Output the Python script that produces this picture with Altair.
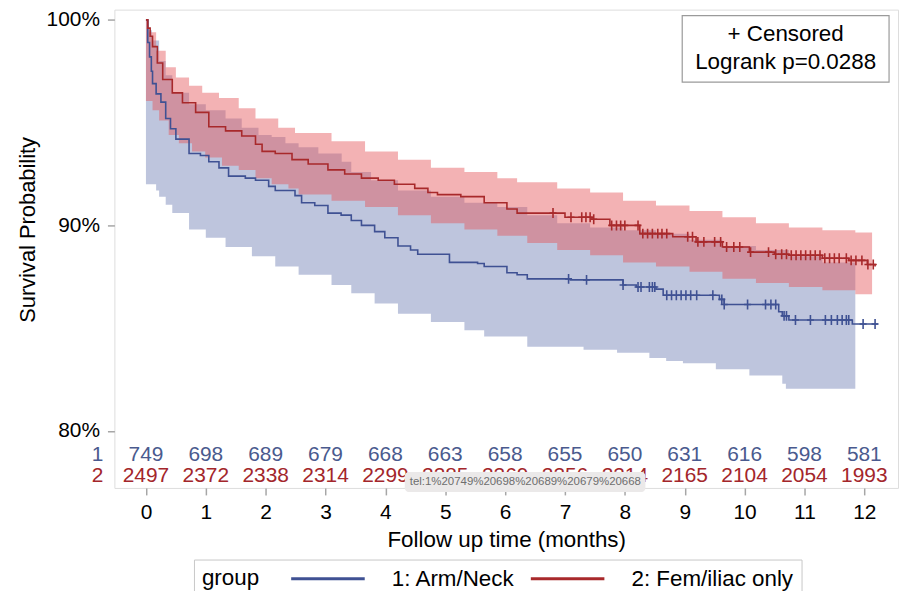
import altair as alt
import pandas as pd
import numpy as np

FONT = "Liberation Sans"
G1 = "1: Arm/Neck"
G2 = "2: Fem/iliac only"
BLUE = "#3f5193"
RED = "#a8292b"
BLUE_TXT = "#4a5a8e"
RED_TXT = "#a3262b"

# ---- Kaplan-Meier estimate, group 1 (Arm/Neck) ----
t1 = [0, 0.03, 0.06, 0.09, 0.11, 0.17, 0.25, 0.33, 0.41, 0.50, 0.72, 0.91, 1.05, 1.22,
      1.38, 1.66, 1.83, 2.05, 2.16, 2.49, 2.60, 2.82, 3.04, 3.26, 3.43, 3.60, 3.82, 3.99,
      4.21, 4.42, 4.54, 5.07, 5.54, 5.65, 6.03, 6.20, 6.37, 7.09, 7.97, 8.19, 8.52, 8.64,
      9.58, 9.66, 10.57, 10.63, 10.74, 11.80, 12.23]
s1 = [100, 98.9, 98.2, 97.5, 96.9, 96.4, 96.0, 95.2, 94.7, 94.2, 93.5, 93.4, 93.1, 92.8,
      92.4, 92.3, 92.2, 91.9, 91.7, 91.45, 91.1, 90.97, 90.6, 90.5, 90.24, 90.0, 89.7, 89.4,
      89.0, 88.8, 88.6, 88.2, 88.15, 88.0, 87.7, 87.6, 87.4, 87.35, 87.1, 87.0, 86.9, 86.6,
      86.4, 86.15, 85.8, 85.6, 85.4, 85.2, 85.2]

# ---- Kaplan-Meier estimate, group 2 (Fem/iliac only) ----
t2 = [0, 0.03, 0.07, 0.11, 0.19, 0.28, 0.44, 0.61, 0.83, 1.05, 1.33, 1.60, 1.83, 1.94,
      2.16, 2.44, 2.71, 3.04, 3.32, 3.60, 3.88, 4.15, 4.49, 4.71, 4.87, 5.26, 5.65, 6.03,
      6.20, 7.00, 7.45, 7.75, 8.25, 8.80, 9.19, 9.63, 10.08, 10.50, 10.74, 11.30, 11.74,
      12.05, 12.18]
s2 = [100, 99.6, 99.2, 98.7, 97.9, 97.1, 96.45, 95.97, 95.5, 94.8, 94.6, 94.35, 93.95, 93.6,
      93.5, 93.2, 92.99, 92.7, 92.5, 92.3, 92.2, 92.0, 91.8, 91.6, 91.5, 91.4, 91.1, 90.8,
      90.6, 90.4, 90.3, 90.0, 89.6, 89.45, 89.2, 88.95, 88.7, 88.6, 88.55, 88.4, 88.3,
      88.1, 88.0]

# ---- confidence band, group 1 ----
tu1 = [0, 0.05, 0.10, 0.22, 0.33, 0.44, 0.72, 1.00, 1.33, 1.60, 1.88, 2.10, 2.33, 2.55,
       2.88, 3.27, 3.43, 3.76, 4.21, 4.76, 5.32, 5.87, 6.37, 6.87, 7.42, 7.97, 8.52, 9.08,
       9.63, 10.19, 10.74, 11.30, 11.85]
su1 = [100, 99.5, 99.0, 98.0, 97.3, 96.45, 95.9, 95.6, 95.2, 94.75, 94.4, 94.3, 94.0, 93.8,
       93.5, 93.1, 92.6, 92.2, 91.7, 91.4, 91.1, 90.9, 90.5, 90.1, 89.9, 89.76, 89.6, 89.3,
       89.0, 88.8, 88.5, 88.2, 88.0]
tl1 = [0, 0.17, 0.22, 0.33, 0.44, 0.72, 1.00, 1.33, 1.77, 2.16, 2.55, 3.10, 3.43, 3.82,
       4.21, 4.76, 5.32, 5.65, 6.37, 7.31, 7.87, 8.41, 8.69, 8.97, 9.52, 10.08, 10.63,
       10.69, 11.85]
sl1 = [92.0, 91.7, 91.4, 91.0, 90.6, 89.8, 89.4, 88.95, 88.5, 88.0, 87.6, 87.1, 86.7, 86.2,
       85.7, 85.3, 84.9, 84.6, 84.1, 83.95, 83.8, 83.55, 83.4, 83.3, 83.0, 82.7, 82.3,
       82.05, 82.05]

# ---- confidence band, group 2 ----
tu2 = [0, 0.05, 0.17, 0.33, 0.50, 0.72, 0.94, 1.22, 1.55, 1.83, 2.21, 2.49, 3.10, 3.66,
       4.21, 4.76, 5.32, 5.87, 6.20, 6.87, 7.42, 7.97, 8.52, 9.08, 9.63, 10.19, 10.74,
       11.30, 11.85, 12.13]
su2 = [100, 99.4, 98.5, 97.7, 97.2, 96.8, 96.45, 96.2, 95.7, 95.2, 94.75, 94.5, 94.1, 93.6,
       93.2, 92.8, 92.6, 92.3, 92.1, 91.8, 91.6, 91.2, 90.97, 90.7, 90.4, 90.1, 89.9,
       89.76, 89.65, 89.65]
tl2 = [0, 0.11, 0.22, 0.38, 0.55, 0.77, 0.99, 1.27, 1.55, 1.83, 2.10, 2.38, 2.55, 3.10,
       3.66, 4.21, 4.76, 5.32, 5.87, 6.37, 6.87, 7.42, 7.97, 8.52, 9.08, 9.63, 10.19,
       10.74, 11.30, 11.85, 12.13]
sl2 = [96.05, 95.6, 95.1, 94.4, 94.0, 93.6, 93.3, 92.9, 92.7, 92.3, 92.0, 91.8, 91.5, 91.2,
       90.9, 90.5, 90.1, 89.8, 89.5, 89.15, 88.8, 88.55, 88.2, 88.0, 87.75, 87.4, 87.2,
       87.0, 86.85, 86.65, 86.6]

# ---- censoring times ----
cens1 = [7.06, 7.36, 7.97, 8.22, 8.27, 8.41, 8.46, 8.50, 8.70, 8.78, 8.86, 8.94, 9.02,
         9.10, 9.20, 9.47, 9.62, 9.66, 10.05, 10.35, 10.44, 10.52, 10.66, 10.70, 10.85,
         11.10, 11.35, 11.45, 11.55, 11.63, 11.70, 11.74, 11.98, 12.18]
cens2 = [6.80, 7.10, 7.28, 7.35, 7.42, 7.48, 7.78, 7.86, 7.93, 8.00, 8.22, 8.30, 8.38,
         8.46, 8.55, 8.62, 8.70, 9.05, 9.13, 9.22, 9.32, 9.50, 9.60, 9.70, 9.82, 9.92,
         10.10, 10.40, 10.52, 10.62, 10.70, 10.78, 10.86, 10.94, 11.02, 11.10, 11.18,
         11.26, 11.34, 11.42, 11.50, 11.58, 11.70, 11.78, 11.86, 11.96, 12.06, 12.15]

# ---- numbers at risk ----
risk_t = list(range(13))
risk1 = [749, 698, 689, 679, 668, 663, 658, 655, 650, 631, 616, 598, 581]
risk2 = [2497, 2372, 2338, 2314, 2299, 2285, 2269, 2256, 2214, 2165, 2104, 2054, 1993]

x_ticks = list(range(13))
y_ticks = [80, 90, 100]


def step_eval(ts, ss, x):
    ts = np.asarray(ts, dtype=float)
    ss = np.asarray(ss, dtype=float)
    i = np.searchsorted(ts, np.asarray(x, dtype=float), side="right") - 1
    return ss[np.clip(i, 0, len(ss) - 1)]


def band(tu, su, tl, sl):
    grid = sorted(set(tu) | set(tl))
    return pd.DataFrame({"t": grid, "lo": step_eval(tl, sl, grid), "hi": step_eval(tu, su, grid)})


band1 = band(tu1, su1, tl1, sl1)
band2 = band(tu2, su2, tl2, sl2)
curves = pd.concat([
    pd.DataFrame({"t": t1, "s": s1, "group": G1}),
    pd.DataFrame({"t": t2, "s": s2, "group": G2}),
])
cens = pd.concat([
    pd.DataFrame({"t": cens1, "s": step_eval(t1, s1, cens1), "group": G1}),
    pd.DataFrame({"t": cens2, "s": step_eval(t2, s2, cens2), "group": G2}),
])
risk_df1 = pd.DataFrame({"t": risk_t, "n": [str(v) for v in risk1]})
risk_df2 = pd.DataFrame({"t": risk_t, "n": [str(v) for v in risk2]})
one = pd.DataFrame({"k": [0]})

XS = alt.Scale(domain=[-0.527, 12.563], nice=False, zero=False)
YS = alt.Scale(domain=[77.228, 100.498], nice=False, zero=False)
XA = alt.Axis(values=x_ticks, title="Follow up time (months)", grid=False, domain=False,
              tickSize=7, tickWidth=1.5, tickColor="#a6a6a6", labelFontSize=21,
              labelColor="black", labelPadding=7, labelFont=FONT, titleFont=FONT,
              titleFontSize=22.5, titleFontWeight="normal", titleColor="black",
              titleY=52, titleBaseline="middle")
YA = alt.Axis(values=y_ticks, labelExpr="datum.value + '%'", title="Survival Probability",
              grid=False, domain=False, tickSize=7, tickWidth=1.5, tickColor="#a6a6a6",
              labelFontSize=21, labelColor="black", labelPadding=8, labelFont=FONT,
              titleFont=FONT, titleFontSize=22, titleFontWeight="normal", titleColor="black",
              titleX=-87, titleY=221, titleAngle=270, titleBaseline="middle",
              titleAlign="center")


def X(f):
    return alt.X(f"{f}:Q", scale=XS, axis=XA)


def Y(f):
    return alt.Y(f"{f}:Q", scale=YS, axis=YA)


band_b = alt.Chart(band1).mark_area(interpolate="step-after", color="#6f7eb3",
                                    opacity=0.45).encode(x=X("t"), y=Y("lo"), y2="hi:Q")
band_r = alt.Chart(band2).mark_area(interpolate="step-after", color="#e45458",
                                    opacity=0.45).encode(x=X("t"), y=Y("lo"), y2="hi:Q")

legend = alt.Legend(orient="none", legendX=80, legendY=553, direction="horizontal",
                    title="group", titleOrient="left", titleFont=FONT, titleFontSize=22.5,
                    titleFontWeight="normal", titleColor="black", titlePadding=57.5,
                    labelFont=FONT, labelFontSize=22.5, labelColor="black", labelOffset=53,
                    labelLimit=400, symbolType="M-6,0H6", symbolSize=152,
                    symbolStrokeWidth=3, columnPadding=9, padding=8,
                    strokeColor="#c8c8c8", fillColor="white")

lines = alt.Chart(curves).mark_line(interpolate="step-after", strokeWidth=1.6).encode(
    x=X("t"), y=Y("s"),
    color=alt.Color("group:N", scale=alt.Scale(domain=[G1, G2], range=[BLUE, RED]),
                    legend=legend))

marks = alt.Chart(cens).mark_point(shape="M0,-1V1M-0.7,0H0.7", size=100, strokeWidth=1.6,
                                   filled=False, opacity=1).encode(
    x=X("t"), y=Y("s"),
    stroke=alt.Stroke("group:N", scale=alt.Scale(domain=[G1, G2], range=[BLUE, RED]),
                      legend=None))

txt1 = alt.Chart(risk_df1).mark_text(font=FONT, fontSize=21, color=BLUE_TXT,
                                     baseline="middle").encode(
    x=X("t"), y=alt.value(448), text="n:N")
txt2 = alt.Chart(risk_df2).mark_text(font=FONT, fontSize=21, color=RED_TXT,
                                     baseline="middle").encode(
    x=X("t"), y=alt.value(469), text="n:N")
lab1 = alt.Chart(one).mark_text(text="1", font=FONT, fontSize=21, color=BLUE_TXT,
                                baseline="middle").encode(x=alt.value(-17), y=alt.value(448))
lab2 = alt.Chart(one).mark_text(text="2", font=FONT, fontSize=21, color=RED_TXT,
                                baseline="middle").encode(x=alt.value(-17), y=alt.value(469))

box = alt.Chart(one).mark_rect(fill="white", stroke="#9a9a9a", strokeWidth=1.2).encode(
    x=alt.value(571), x2=alt.value(779), y=alt.value(6), y2=alt.value(73))
box_t1 = alt.Chart(one).mark_text(text="+ Censored", font=FONT, fontSize=22.5, color="black",
                                  baseline="middle").encode(x=alt.value(675), y=alt.value(25))
box_t2 = alt.Chart(one).mark_text(text="Logrank p=0.0288", font=FONT, fontSize=22.5,
                                  color="black", baseline="middle").encode(
    x=alt.value(675), y=alt.value(53))

tip = alt.Chart(one).mark_rect(fill="#ebe9e9", cornerRadius=4).encode(
    x=alt.value(292), x2=alt.value(534), y=alt.value(465), y2=alt.value(485))
tip_t = alt.Chart(one).mark_text(text="tel:1%20749%20698%20689%20679%20668", font=FONT,
                                 fontSize=11.5, color="#6e6e6e", align="left",
                                 baseline="middle").encode(x=alt.value(297), y=alt.value(475))

chart = alt.layer(band_b, band_r, lines, marks, txt1, txt2, lab1, lab2, box, box_t1,
                  box_t2, tip, tip_t).properties(
    width=788, height=481,
    padding={"left": 107, "top": 0, "right": 1, "bottom": 102},
    autosize=alt.AutoSizeParams(type="none"),
).configure_view(stroke="#b3b3b3", strokeWidth=1.5).configure(font=FONT)

chart.save("out.html", embed_options={"renderer": "svg", "actions": False})
